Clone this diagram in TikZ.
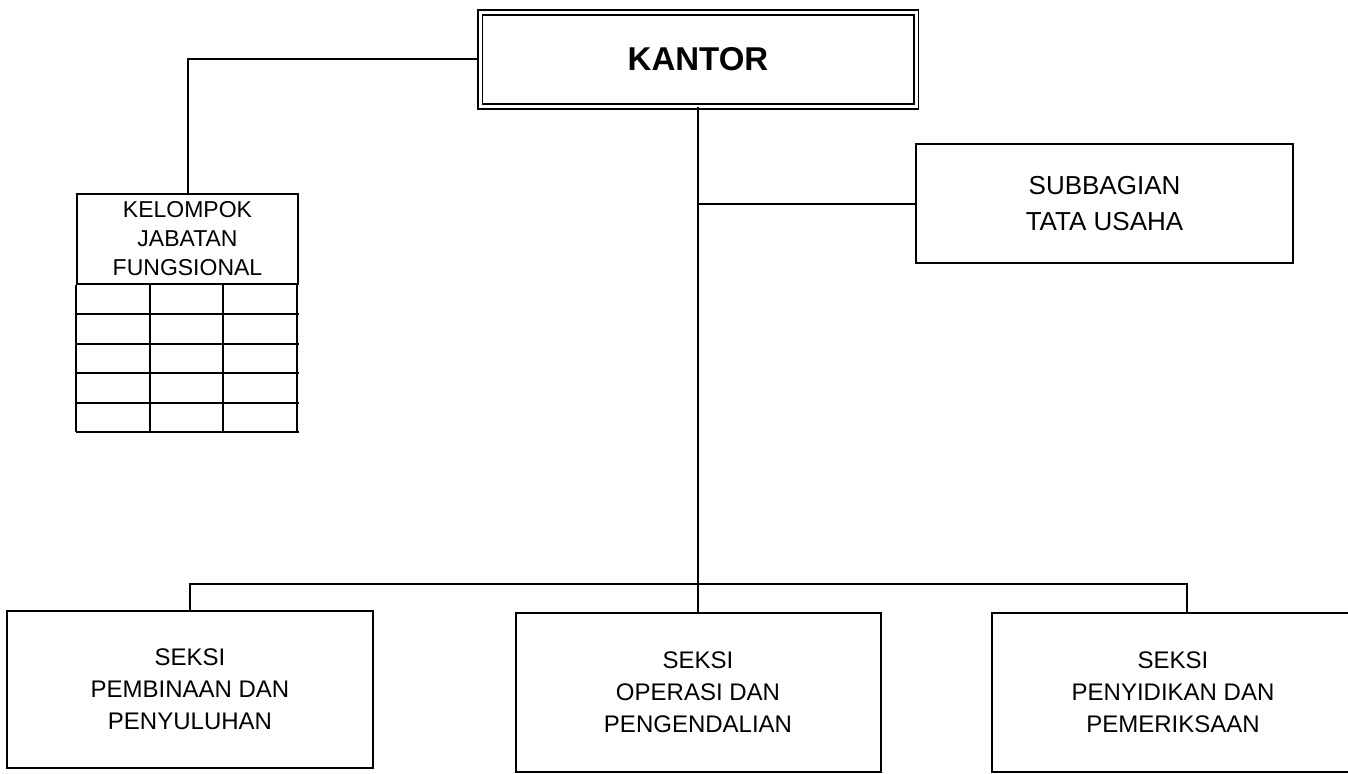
\documentclass[tikz,border=0pt]{standalone}
\usepackage{fontspec}
\setmainfont{Liberation Sans}
\usetikzlibrary{positioning,calc}

\begin{document}
\begin{tikzpicture}[
    x=1pt, y=-1pt,
    unit/.style={
      rectangle, draw=black, line width=2pt, align=center, inner sep=0pt,
      font=\fontsize{24}{32}\selectfont
    },
    head/.style={
      rectangle, draw=black, double, double distance=3pt, line width=1.6pt,
      align=center, inner sep=0pt, font=\fontsize{33}{38}\selectfont\bfseries
    },
    link/.style={line width=2pt, draw=black}
  ]
  \useasboundingbox (0,0) rectangle (1348,773);
  \clip (0,0) rectangle (1348,773);

  \node[head, minimum width=436pt, minimum height=94pt] (kantor) at (698,59.5) {KANTOR};
  \node[unit, minimum width=221pt, minimum height=90pt, font=\fontsize{23}{29}\selectfont]
    (kjf) at (187.5,239) {KELOMPOK\\JABATAN\\FUNGSIONAL};
  \node[unit, minimum width=377pt, minimum height=119pt, font=\fontsize{26}{36}\selectfont]
    (tu) at (1104.5,203.5) {SUBBAGIAN\\TATA USAHA};
  \node[unit, minimum width=366pt, minimum height=157pt] (pembinaan) at (190,689.5)
    {SEKSI\\PEMBINAAN DAN\\PENYULUHAN};
  \node[unit, minimum width=365pt, minimum height=159pt] (operasi) at (698,692.5)
    {SEKSI\\OPERASI DAN\\PENGENDALIAN};
  \node[unit, minimum width=362pt, minimum height=159pt] (penyidikan) at (1173,692.5)
    {SEKSI\\PENYIDIKAN DAN\\PEMERIKSAAN};

  % grid under the functional group
  \foreach \r in {1,...,5}
    \draw[link] ($(kjf.south west)+(0,\r*29.4)$) -- ($(kjf.south east)+(0,\r*29.4)$);
  \foreach \c in {0,...,3}
    \draw[link] ($(kjf.south west)+(\c*73.67,0)$) -- ++(0,147);

  \draw[link] (kantor.west) -| (kjf.north);
  \draw[link] (kantor.south) -- (operasi.north);
  \draw[link] (kantor.south |- tu.west) -- (tu.west);

  \coordinate (bus) at (kantor.south |- 0,584);
  \draw[link] (pembinaan.north) |- (bus) -| ([xshift=14pt]penyidikan.north);
\end{tikzpicture}
\end{document}
